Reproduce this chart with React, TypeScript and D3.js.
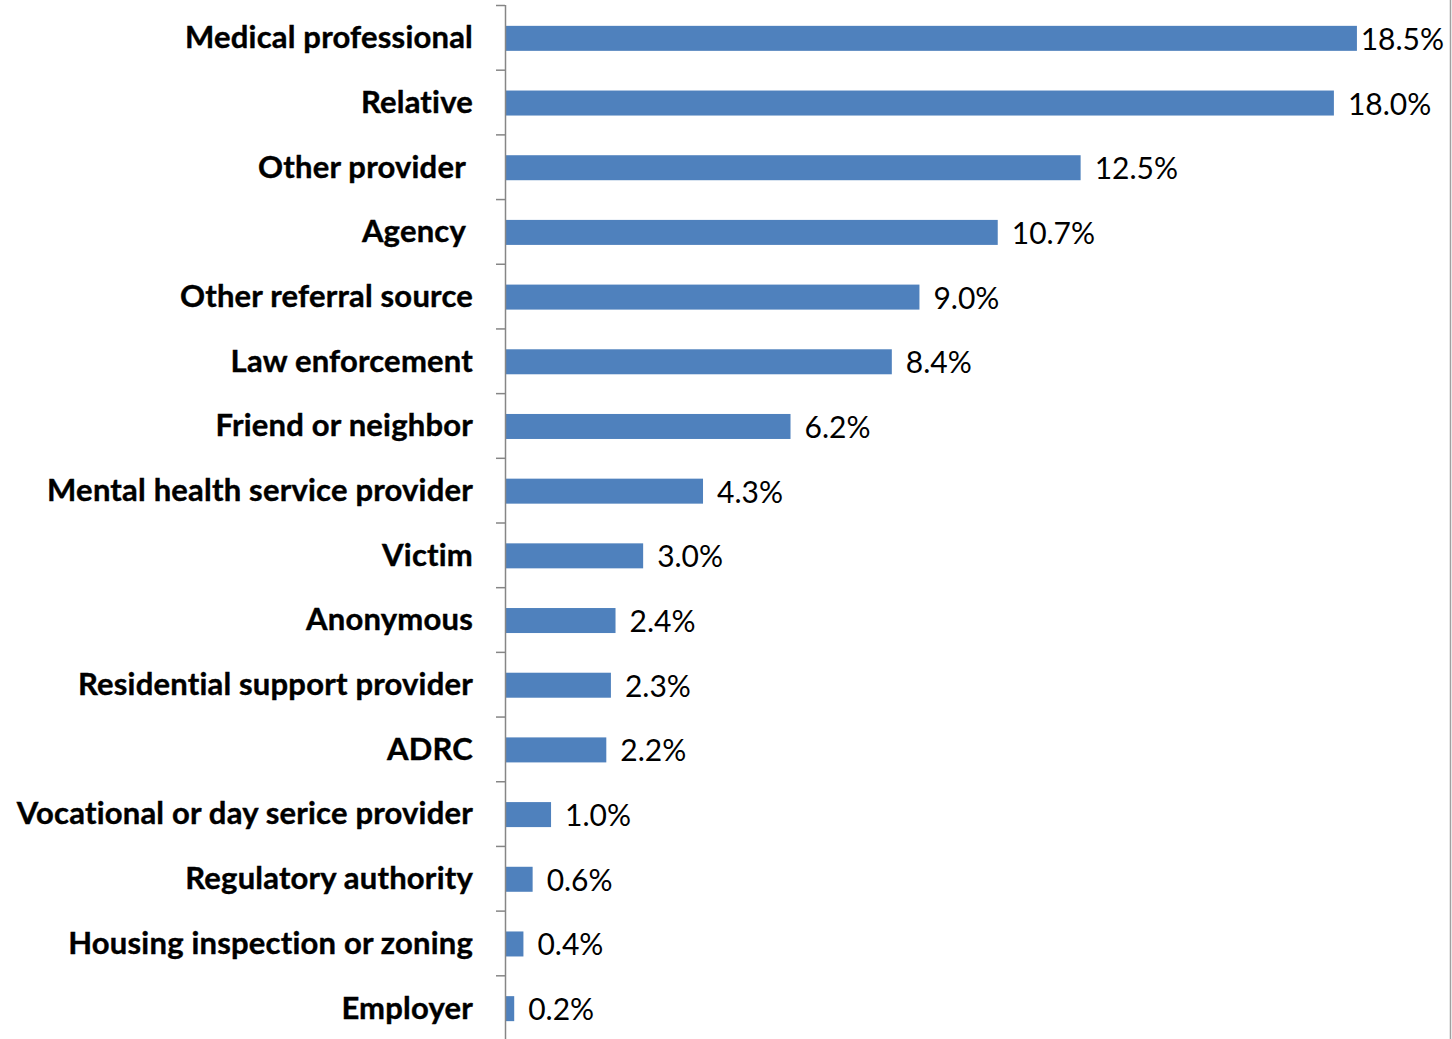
import { useEffect, useRef } from 'react';
import * as d3 from 'd3';

const categories = [
  'Medical professional',
  'Relative',
  'Other provider ',
  'Agency ',
  'Other referral source',
  'Law enforcement',
  'Friend or neighbor',
  'Mental health service provider',
  'Victim',
  'Anonymous',
  'Residential support provider',
  'ADRC',
  'Vocational or day serice provider',
  'Regulatory authority',
  'Housing inspection or zoning',
  'Employer',
];

const percents = [18.5, 18.0, 12.5, 10.7, 9.0, 8.4, 6.2, 4.3, 3.0, 2.4, 2.3, 2.2, 1.0, 0.6, 0.4, 0.2];

const WIDTH = 1452;
const HEIGHT = 1039;

export default function App() {
  const svgRef = useRef<SVGSVGElement | null>(null);

  useEffect(() => {
    if (!svgRef.current) return;
    const svg = d3.select(svgRef.current);
    svg.selectAll('*').remove();

    const rows = categories.map((label, i) => ({ label, value: percents[i] }));

    const x = d3.scaleLinear().domain([0, 20]).range([505, 1426]);
    const y = d3
      .scaleBand<string>()
      .domain(categories)
      .range([5, 1040])
      .paddingInner(0.6135)
      .paddingOuter(0.3068);

    const step = y.step();

    // right border of the chart area
    svg
      .append('line')
      .attr('x1', 1450.5)
      .attr('x2', 1450.5)
      .attr('y1', 0)
      .attr('y2', HEIGHT)
      .attr('stroke', '#a0a0a0')
      .attr('stroke-width', 1.5);

    // bars
    svg
      .selectAll('rect.bar')
      .data(rows)
      .enter()
      .append('rect')
      .attr('class', 'bar')
      .attr('x', x(0))
      .attr('y', (d) => (y(d.label) as number) + 1)
      .attr('width', (d) => x(d.value) - x(0))
      .attr('height', y.bandwidth())
      .attr('fill', '#4f81bd');

    // category axis
    svg
      .append('line')
      .attr('x1', 505.5)
      .attr('x2', 505.5)
      .attr('y1', 5)
      .attr('y2', HEIGHT)
      .attr('stroke', '#868686')
      .attr('stroke-width', 1.5);

    const ticks = d3.range(categories.length + 1).map((i) => 5 + i * step);
    svg
      .selectAll('line.tick')
      .data(ticks)
      .enter()
      .append('line')
      .attr('class', 'tick')
      .attr('x1', 496)
      .attr('x2', 505)
      .attr('y1', (d) => d + 0.5)
      .attr('y2', (d) => d + 0.5)
      .attr('stroke', '#868686')
      .attr('stroke-width', 1.5);

    // category labels
    svg
      .selectAll('text.cat')
      .data(rows)
      .enter()
      .append('text')
      .attr('class', 'cat')
      .attr('x', 473)
      .attr('y', (d) => (y(d.label) as number) + y.bandwidth() / 2)
      .attr('dy', '0.35em')
      .attr('text-anchor', 'end')
      .style('white-space', 'pre')
      .style('font-family', 'Lato, "Open Sans", sans-serif')
      .style('font-weight', 'bold')
      .style('font-size', '31px')
      .style('letter-spacing', '0.2px')
      .style('stroke', '#000')
      .style('stroke-width', '0.4px')
      .style('fill', '#000')
      .text((d) => d.label);

    // value labels
    const values = svg
      .selectAll('text.val')
      .data(rows)
      .enter()
      .append('text')
      .attr('class', 'val')
      .attr('x', (d) => x(d.value) + 14)
      .attr('y', (d) => (y(d.label) as number) + y.bandwidth() / 2 + 2)
      .attr('dy', '0.35em')
      .style('font-family', 'Lato, "Open Sans", sans-serif')
      .style('font-size', '30px')
      .style('fill', '#000')
      .text((d) => d.value.toFixed(1) + '%');

    // keep labels inside the plot area
    values.each(function () {
      const el = this as SVGTextElement;
      const w = el.getComputedTextLength();
      const xx = +el.getAttribute('x')!;
      if (xx + w > 1444) el.setAttribute('x', String(1444 - w));
    });
  }, []);

  return (
    <svg
      ref={svgRef}
      width={WIDTH}
      height={HEIGHT}
      style={{ position: 'absolute', left: 0, top: 0, background: '#fff' }}
    />
  );
}
